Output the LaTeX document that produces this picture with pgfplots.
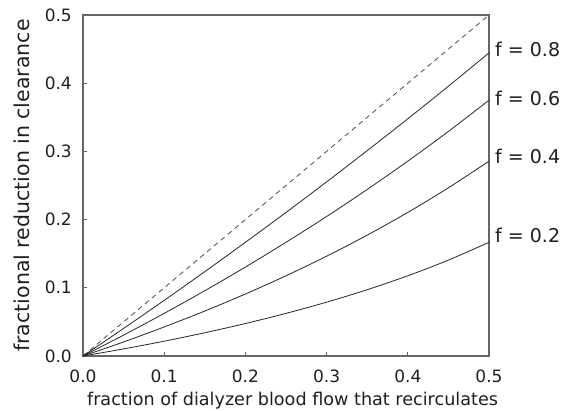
\documentclass[border=0pt]{standalone}
\usepackage{pgfplots}
\pgfplotsset{compat=1.18}
\usepackage{fontspec}
\setmainfont{DejaVu Sans}
\begin{document}
\begin{tikzpicture}
\begin{axis}[
  scale only axis, width=406pt, height=341pt,
  xmin=0, xmax=0.5, ymin=0, ymax=0.5,
  xtick={0,0.1,0.2,0.3,0.4,0.5}, ytick={0,0.1,0.2,0.3,0.4,0.5},
  xticklabel style={/pgf/number format/fixed, /pgf/number format/fixed zerofill, /pgf/number format/precision=1, inner sep=0pt, anchor=north, yshift=-14pt},
  yticklabel style={/pgf/number format/fixed, /pgf/number format/fixed zerofill, /pgf/number format/precision=1, inner sep=0pt, anchor=east, xshift=-11pt},
  /pgf/number format/assume math mode=true,
  tick label style={font=\fontsize{17}{19}\selectfont, text=black!88},
  xlabel={fraction of dialyzer blood flow that recirculates},
  ylabel={fractional reduction in clearance},
  xlabel style={font=\fontsize{17.6}{19}\selectfont, text=black!88, inner sep=0pt, at={(axis description cs:0.516,0)}, anchor=base, yshift=-50pt},
  ylabel style={font=\fontsize{20.5}{22}\selectfont, text=black!88, inner sep=0pt, at={(axis description cs:-0.133,0.5)}, anchor=base, rotate=0},
  tick align=inside, xtick pos=bottom, ytick pos=left,
  major tick length=4pt,
  axis line style={black!60, line width=1.1pt},
  every tick/.style={black!60, line width=0.7pt},
  clip=false,
]
\addplot[black!70, dash pattern=on 5pt off 4pt, line width=0.8pt] coordinates {(0,0) (0.5,0.5)};
\addplot[black!85, line width=0.8pt, smooth] coordinates {
(0,0) (0.05,0.0404) (0.1,0.0816) (0.15,0.1237) (0.2,0.1667) (0.25,0.2105) (0.3,0.2553) (0.35,0.3011) (0.4,0.3478) (0.45,0.3956) (0.5,0.4444)};
\addplot[black!85, line width=0.8pt, smooth] coordinates {
(0,0) (0.05,0.0306) (0.1,0.0625) (0.15,0.0957) (0.2,0.1304) (0.25,0.1667) (0.3,0.2045) (0.35,0.2442) (0.4,0.2857) (0.45,0.3293) (0.5,0.375)};
\addplot[black!85, line width=0.8pt, smooth] coordinates {
(0,0) (0.05,0.0206) (0.1,0.0426) (0.15,0.0659) (0.2,0.0909) (0.25,0.1176) (0.3,0.1463) (0.35,0.1772) (0.4,0.2105) (0.45,0.2466) (0.5,0.2857)};
\addplot[black!85, line width=0.8pt, smooth] coordinates {
(0,0) (0.05,0.0104) (0.1,0.0217) (0.15,0.0341) (0.2,0.0476) (0.25,0.0625) (0.3,0.0789) (0.35,0.0972) (0.4,0.1176) (0.45,0.1406) (0.5,0.1667)};
\tikzset{flab/.style={anchor=west, inner sep=0pt, xshift=6pt, font=\fontsize{19}{21}\selectfont, text=black!88}}
\node[flab] at (axis cs:0.5,0.450) {f = 0.8};
\node[flab] at (axis cs:0.5,0.378) {f = 0.6};
\node[flab] at (axis cs:0.5,0.292) {f = 0.4};
\node[flab] at (axis cs:0.5,0.177) {f = 0.2};
\path (rel axis cs:0,0) ++(-83pt,-55pt);
\path (rel axis cs:1,1) ++(79pt,15pt);
\end{axis}
\end{tikzpicture}
\end{document}
